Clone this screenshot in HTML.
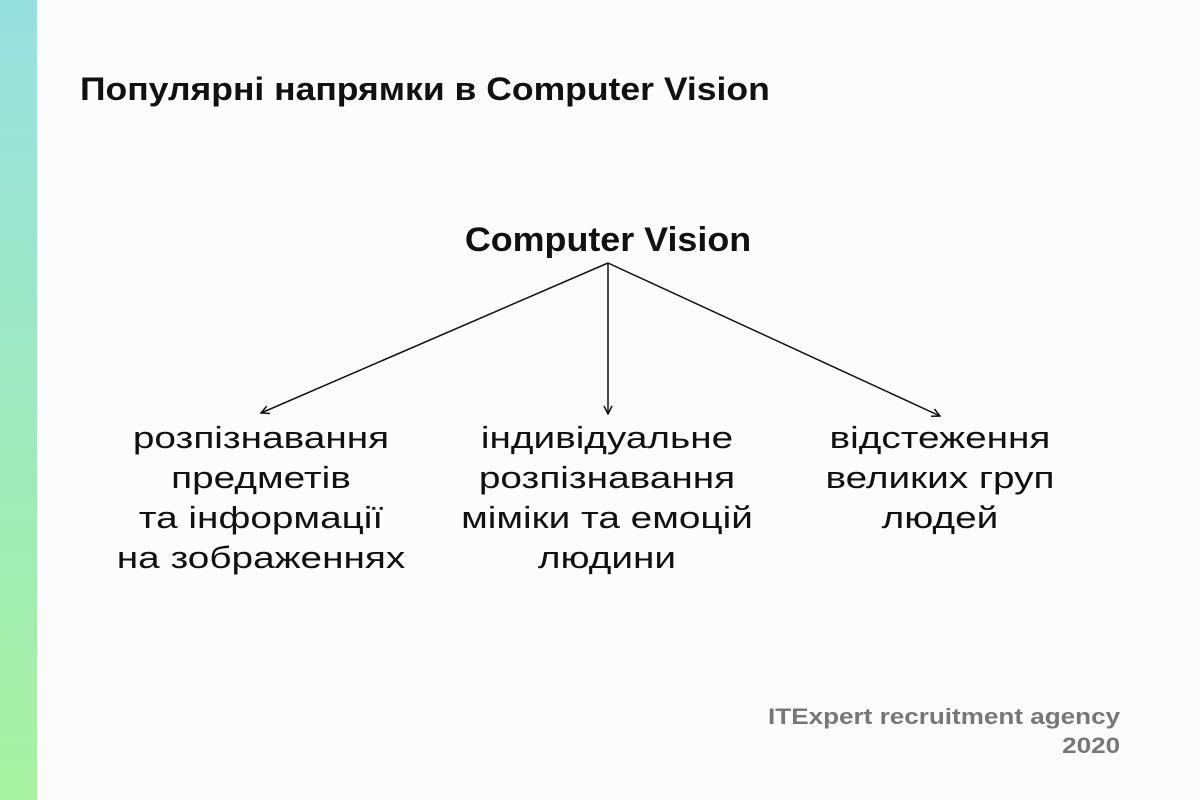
<!DOCTYPE html>
<html><head><meta charset="utf-8"><style>
body{margin:0;width:1200px;height:800px;background:#fcfcfc;position:relative;overflow:hidden;font-family:"Liberation Sans","DejaVu Sans",sans-serif;color:#111}
.bar{position:absolute;left:0;top:0;width:37px;height:800px;background:linear-gradient(#97e0e0,#a6f2a0)}
.t{position:absolute;white-space:nowrap}
.c{position:absolute;text-align:center;font-size:31px;line-height:40px;transform:translateX(-50%) scaleX(1.25);white-space:nowrap}
</style></head><body>
<div class="bar"></div>
<div class="t" style="left:80px;top:71px;font-size:32px;font-weight:bold;transform:scaleX(1.11);transform-origin:left">Популярні напрямки в Computer Vision</div>
<div class="c" style="left:608px;top:220px;font-size:34px;font-weight:bold;transform:translateX(-50%) scaleX(1.055)">Computer Vision</div>
<svg style="position:absolute;left:0;top:0" width="1200" height="800">
<defs><marker id="a" markerWidth="10" markerHeight="10" refX="9" refY="5" orient="auto" markerUnits="userSpaceOnUse"><path d="M1,1 L9,5 L1,9" fill="none" stroke="#111" stroke-width="1.5"/></marker></defs>
<g stroke="#111" stroke-width="1.5" fill="none">
<line x1="608" y1="263" x2="261" y2="413" marker-end="url(#a)"/>
<line x1="608" y1="263" x2="608" y2="414" marker-end="url(#a)"/>
<line x1="608" y1="263" x2="940" y2="416" marker-end="url(#a)"/>
</g></svg>
<div class="c" style="left:261px;top:418px">розпізнавання<br>предметів<br>та інформації<br>на зображеннях</div>
<div class="c" style="left:607px;top:418px">індивідуальне<br>розпізнавання<br>міміки та емоцій<br>людини</div>
<div class="c" style="left:940px;top:418px">відстеження<br>великих груп<br>людей</div>
<div class="t" style="right:80px;top:702px;text-align:right;font-size:22px;font-weight:bold;color:#777;line-height:29px;transform:scaleX(1.185);transform-origin:right">ITExpert recruitment agency<br>2020</div>
</body></html>
